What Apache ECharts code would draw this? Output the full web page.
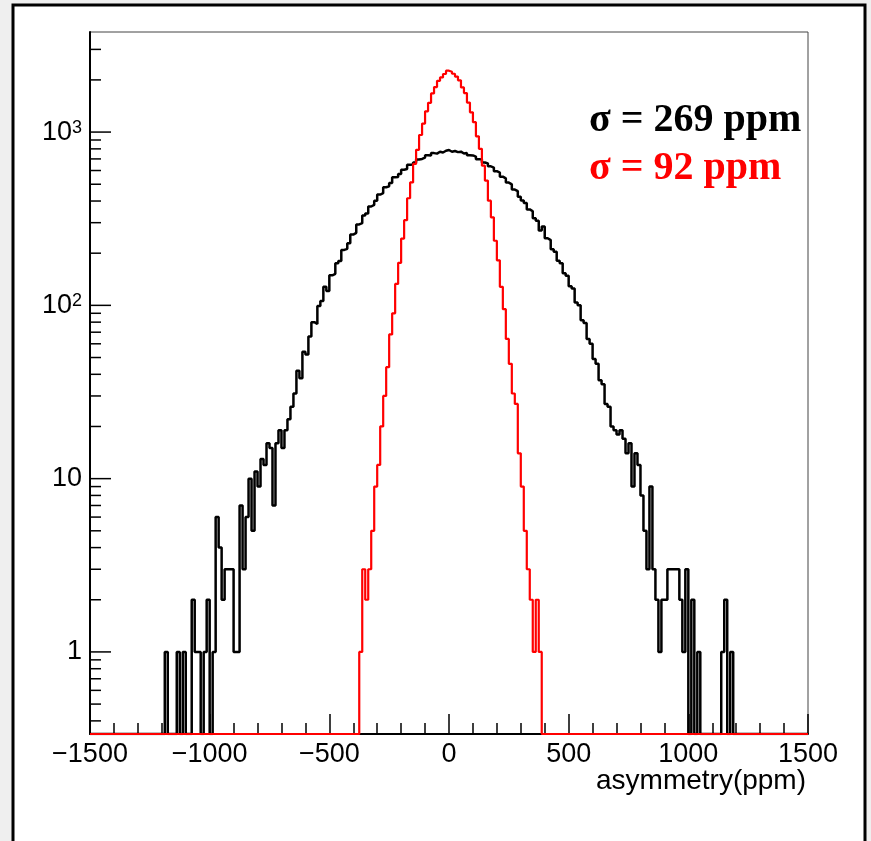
<!DOCTYPE html>
<html><head><meta charset="utf-8">
<script src="https://cdn.jsdelivr.net/npm/echarts@6/dist/echarts.min.js"></script>
<style>html,body{margin:0;padding:0;background:#efefef}#c{width:871px;height:841px}</style>
</head><body><div id="c"></div>
<script>
// ---- data (histogram bin counts, bin width 12.5 ppm) ----
const histMin = -1500, histMax = 1500, binWidth = 12.5;
const blackStart = -1200;
const blackCounts = [
  0,1,0,0,0,1,0,1,0,0, 2,1,1,0,1,2,0,1,6,4, 2,3,3,3,1,1,7,3,6,10, 5,11,9,13,12,16,15,7,16,19,
  15,19,22,26,31,42,38,54,52,66, 80,78,99,106,128,121,149,152,175,180, 209,212,228,256,262,293,298,330,339,372,
  380,402,436,444,480,486,509,548,551,573, 606,612,647,650,668,695,700,713,736,733, 756,751,770,762,780,788,
  770,778,766,771,752,757,736,733,722,698, 694,668,660,634,624,595,584,553,540,511, 499,466,456,424,403,390,358,349,318,308,
  270,285,244,238,211,204,181,175,153,148, 129,125,104,100,82,79,64,60,49,46, 37,35,27,26,20,19,
  18,19,17,14,16,9,14,12,8,5, 3,9,3,2,1,2,2,3,3,3, 3,2,1,3,0,2,0,1,0,0, 0,0,0,0,0,1,2,0,1,0
];
const redStart = -375;
const redCounts = [
  1,3,2,3,5,9,12,20,30,44, 68,90,133,176,243,310,415,512,655,790,
  962,1120,1318,1475,1672,1818,1975,2068,2163,2260, 2230,2170,2090,1990,1810,1680,1480,1300,1140,945,
  800,640,525,402,322,236,182,128,95,64, 46,31,27,14,9,5,3,2,1,2, 1
];
const xTickStep = 500;
const yMajorTicks = [1, 10, 100, 1000];
const yMajorLabels = ['1', '10', '{n|10}{s|2}', '{n|10}{s|3}'];
const yMinorTicks = [0.4,0.5,0.6,0.7,0.8,0.9, 2,3,4,5,6,7,8,9, 20,30,40,50,60,70,80,90, 200,300,400,500,600,700,800,900, 2000,3000];
const yMin = 0.336, yMax = 3780;
const sigmaTexts = ['\u03c3 = 269 ppm', '\u03c3 = 92 ppm'];
const xTitle = 'asymmetry(ppm)';

// ---- build step polylines from bins ----
function toSteps(start, counts) {
  const n = Math.round((histMax - histMin) / binWidth);
  const full = new Array(n).fill(0);
  const off = Math.round((start - histMin) / binWidth);
  counts.forEach((c, i) => { full[off + i] = c; });
  const pts = full.map((c, i) => [histMin + i * binWidth, c > 0 ? c : yMin]);
  pts.push([histMax, full[n - 1] > 0 ? full[n - 1] : yMin]);
  return pts;
}

const sansFont = 'Liberation Sans';
const labelSize = 27;

const tickData = yMajorTicks.map((v, i) => [histMin, v, 1, i]).concat(yMinorTicks.map(v => [histMin, v, 0, -1]));

const chart = echarts.init(document.getElementById('c'), null, {renderer: 'canvas'});
chart.setOption({
  animation: false,
  backgroundColor: '#efefef',
  graphic: [
    {type: 'rect', z: -10, silent: true, shape: {x: 13, y: 5, width: 852, height: 900},
     style: {fill: '#ffffff', stroke: '#000', lineWidth: 3}},
    {type: 'text', z: 10, x: 589, y: 121, style: {text: sigmaTexts[0], font: 'bold 40px "Liberation Serif"', fill: '#000', verticalAlign: 'middle'}},
    {type: 'text', z: 10, x: 589, y: 169, style: {text: sigmaTexts[1], font: 'bold 40px "Liberation Serif"', fill: '#ff0000', verticalAlign: 'middle'}},
    {type: 'text', z: 10, x: 806, y: 781, style: {text: xTitle, font: '28px "' + sansFont + '"', fill: '#000', align: 'right', verticalAlign: 'middle'}}
  ],
  grid: {left: 90, right: 63, top: 32, bottom: 107, outerBoundsMode: 'none', containLabel: false,
         show: true, borderColor: '#444', borderWidth: 1, backgroundColor: 'transparent'},
  xAxis: {
    type: 'value', min: histMin, max: histMax, interval: xTickStep,
    axisLine: {show: true, onZero: false, lineStyle: {color: '#000', width: 2}},
    axisTick: {show: true, inside: true, length: 20, lineStyle: {color: '#000', width: 1.5}},
    minorTick: {show: true, splitNumber: 5, length: 11, lineStyle: {color: '#000', width: 1.5}},
    splitLine: {show: false}, minorSplitLine: {show: false},
    axisLabel: {show: true, margin: 7, color: '#000', fontSize: labelSize, fontFamily: sansFont,
      formatter: v => String(v).replace('-', '\u2212')}
  },
  yAxis: {
    type: 'log', logBase: 10, min: yMin, max: yMax,
    axisLine: {show: true, onZero: false, lineStyle: {color: '#000', width: 2}},
    axisTick: {show: false}, axisLabel: {show: false}, splitLine: {show: false}, minorTick: {show: false}
  },
  series: [
    {type: 'line', name: 'black', data: toSteps(blackStart, blackCounts), step: 'end', showSymbol: false, symbol: 'none',
     lineStyle: {color: '#000', width: 2.5}, clip: true, z: 3},
    {type: 'line', name: 'red', data: toSteps(redStart, redCounts), step: 'end', showSymbol: false, symbol: 'none',
     lineStyle: {color: '#ff0000', width: 2.2}, clip: true, z: 4},
    {type: 'custom', name: 'yticks', data: tickData, encode: {x: 0, y: 1}, clip: false, z: 5,
     renderItem: function (params, api) {
       const v = api.value(1), major = api.value(2), li = api.value(3);
       const p = api.coord([histMin, v]);
       const len = major ? 21 : 11;
       const children = [{type: 'line', shape: {x1: p[0], y1: p[1], x2: p[0] + len, y2: p[1]},
         style: {stroke: '#000', lineWidth: 1.5}}];
       if (major) {
         children.push({type: 'text', x: p[0] - 8, y: p[1], style: {
           text: yMajorLabels[li], align: 'right', verticalAlign: 'middle',
           fontSize: labelSize, fontFamily: sansFont, fill: '#000',
           rich: {n: {fontSize: labelSize, fontFamily: sansFont, fill: '#000'},
                  s: {fontSize: 18, fontFamily: sansFont, fill: '#000', verticalAlign: 'top'}}
         }});
       }
       return {type: 'group', children: children};
     }}
  ]
});
</script></body></html>
